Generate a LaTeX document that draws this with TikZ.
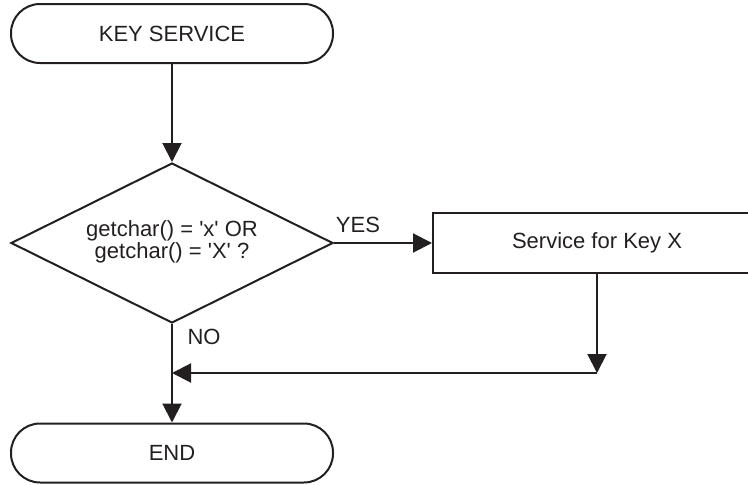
\documentclass[tikz,border=0pt]{standalone}
\usepackage{fontspec}
\setmainfont{Liberation Sans}
\usetikzlibrary{shapes.geometric,arrows.meta}
\definecolor{ink}{HTML}{231F20}
\begin{document}
\begin{tikzpicture}[x=1pt,y=1pt,
  every node/.style={font=\fontsize{22}{22}\selectfont, text=ink},
  term/.style={draw=ink, line width=2pt, rounded corners=29pt, minimum width=322pt, minimum height=59pt, inner sep=0pt},
  dec/.style={draw=ink, line width=2pt, diamond, minimum width=322pt, minimum height=160pt, inner sep=0pt},
  proc/.style={draw=ink, line width=2pt, rectangle, minimum width=328pt, minimum height=60pt, inner sep=0pt},
  lbl/.style={inner sep=0pt},
  arr/.style={draw=ink, line width=2pt, -{Triangle[length=19pt,width=19pt]}}]
\useasboundingbox (0,0) rectangle (748,-485);
\clip (0,0) rectangle (748,-485);
\node[term] (ks) at (172,-33.5) {KEY SERVICE};
\node[dec] (d) at (172,-243) {};
\node[lbl, align=center] (dtxt) at (172,-242) {getchar() = \textquotesingle x\textquotesingle{} OR\\getchar() = \textquotesingle X\textquotesingle{} ?};
\node[proc] (svc) at (597,-243) {Service for Key X};
\node[term] (en) at (172,-453) {END};
\coordinate (c1) at (597,-373);
\coordinate (c2) at (172,-373);
\node[lbl] (yes) at (358,-225) {YES};
\node[lbl] (no) at (204,-337) {NO};
\draw[arr] (ks) -- (d);
\draw[arr] (d.east) -- (svc.west);
\draw[arr] (d.south) -- (en.north);
\draw[arr] (svc.south) -- (c1);
\draw[arr] (c1) -- (c2);
\end{tikzpicture}
\end{document}
